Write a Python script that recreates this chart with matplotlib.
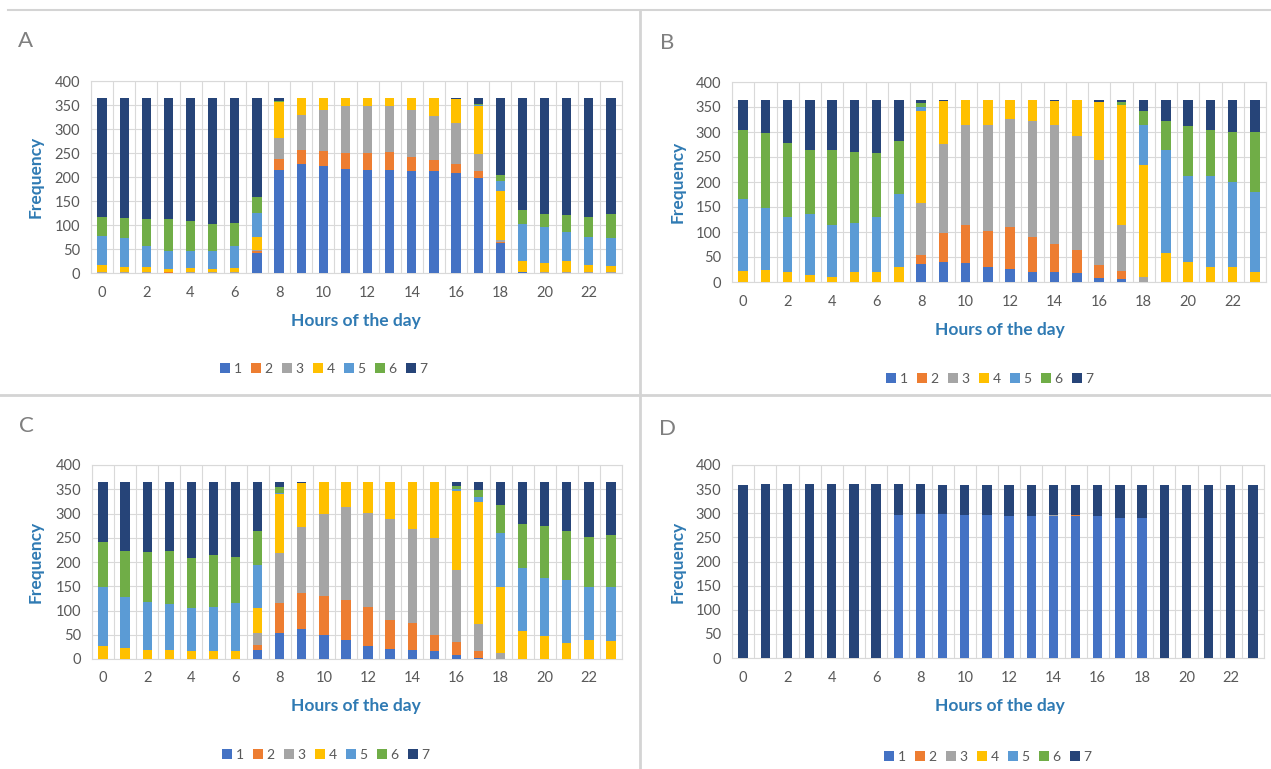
import numpy as np
import matplotlib
matplotlib.use('Agg')
import matplotlib.pyplot as plt
from matplotlib.patches import Patch
from matplotlib.lines import Line2D

plt.rcParams['font.family'] = ['Lato', 'DejaVu Sans']

hours = list(range(24))
series_names = ['1', '2', '3', '4', '5', '6', '7']
colors = ['#4472C4', '#ED7D31', '#A5A5A5', '#FFC000', '#5B9BD5', '#70AD47', '#264478']

# frequency per hour for each of the 7 classes, bottom to top
panel_a = [
    [1, 1, 1, 1, 0, 0, 0, 42, 214, 228, 222, 216, 215, 215, 212, 213, 208, 198, 62, 2, 1, 1, 1, 1],
    [0, 0, 0, 1, 1, 1, 1, 3, 24, 29, 32, 34, 35, 37, 29, 23, 19, 14, 3, 0, 0, 0, 0, 0],
    [1, 1, 1, 1, 1, 1, 1, 3, 44, 72, 86, 97, 98, 96, 99, 91, 86, 36, 4, 1, 1, 1, 1, 1],
    [14, 11, 11, 6, 8, 6, 8, 26, 75, 36, 25, 18, 16, 17, 25, 37, 49, 99, 101, 22, 19, 22, 15, 12],
    [61, 60, 44, 36, 35, 37, 47, 50, 0, 0, 0, 0, 0, 0, 0, 0, 0, 2, 21, 78, 74, 62, 59, 59],
    [40, 42, 55, 67, 63, 58, 48, 35, 2, 0, 0, 0, 0, 0, 0, 0, 1, 4, 14, 28, 28, 34, 41, 50],
    [248, 250, 253, 253, 257, 262, 260, 206, 6, 0, 0, 0, 1, 0, 0, 1, 2, 12, 160, 234, 242, 245, 248, 242],
]

panel_b = [
    [0, 0, 0, 0, 0, 0, 0, 0, 37, 41, 39, 31, 26, 21, 21, 19, 8, 6, 0, 0, 0, 0, 0, 0],
    [0, 0, 0, 0, 0, 0, 0, 0, 17, 58, 75, 71, 85, 70, 55, 45, 27, 17, 1, 0, 0, 0, 0, 0],
    [1, 1, 1, 1, 1, 1, 1, 1, 105, 177, 200, 213, 216, 231, 238, 228, 209, 91, 10, 1, 1, 1, 1, 1],
    [22, 24, 20, 14, 10, 19, 20, 30, 183, 86, 51, 50, 38, 43, 49, 72, 116, 241, 224, 58, 40, 30, 29, 20],
    [144, 123, 110, 121, 103, 98, 110, 146, 8, 0, 0, 0, 0, 0, 0, 0, 0, 0, 79, 205, 171, 181, 171, 160],
    [138, 150, 147, 128, 150, 142, 127, 105, 9, 1, 0, 0, 0, 0, 0, 0, 1, 6, 28, 58, 100, 92, 99, 119],
    [60, 67, 87, 101, 101, 105, 107, 83, 6, 2, 0, 0, 0, 0, 2, 1, 4, 4, 23, 43, 53, 61, 65, 65],
]

panel_c = [
    [0, 0, 0, 0, 0, 0, 0, 18, 53, 62, 49, 40, 27, 21, 19, 16, 9, 2, 0, 0, 0, 0, 0, 0],
    [0, 0, 0, 0, 0, 0, 0, 11, 62, 74, 80, 82, 80, 60, 55, 34, 27, 15, 1, 0, 0, 0, 0, 0],
    [1, 1, 1, 1, 1, 1, 1, 24, 103, 137, 171, 191, 194, 207, 195, 199, 148, 56, 11, 1, 1, 1, 1, 1],
    [25, 22, 18, 17, 15, 15, 16, 52, 123, 90, 65, 51, 63, 76, 96, 116, 163, 250, 136, 56, 46, 33, 39, 37],
    [123, 104, 99, 96, 89, 91, 98, 89, 2, 0, 0, 0, 0, 0, 0, 0, 3, 11, 111, 130, 119, 129, 109, 111],
    [93, 96, 103, 109, 103, 107, 95, 70, 12, 0, 0, 0, 0, 0, 0, 0, 6, 15, 58, 92, 108, 101, 103, 106],
    [123, 142, 144, 142, 157, 151, 155, 101, 10, 2, 0, 1, 1, 1, 0, 0, 9, 16, 48, 86, 91, 101, 113, 110],
]

panel_d = [
    [0, 0, 0, 0, 0, 0, 0, 297, 298, 298, 297, 297, 295, 295, 294, 294, 294, 291, 290, 0, 0, 0, 0, 0],
    [0, 0, 0, 0, 0, 0, 0, 0, 0, 0, 0, 0, 0, 0, 1, 2, 0, 0, 0, 0, 0, 0, 0, 0],
    [0, 0, 0, 0, 0, 0, 0, 0, 0, 0, 0, 0, 0, 0, 1, 0, 0, 0, 0, 0, 0, 0, 0, 0],
    [0] * 24,
    [0] * 24,
    [0] * 24,
    [358, 361, 361, 361, 361, 361, 361, 64, 63, 60, 61, 61, 63, 63, 62, 62, 64, 67, 68, 358, 358, 358, 358, 358],
]

W, H = 1271, 769
fig = plt.figure(figsize=(W / 100, H / 100), dpi=100)

tick_col = '#595959'
label_col = '#2F7AB3'
grid_col = '#D9D9D9'


def draw_panel(data, box, letter, letter_xy, ylab_xy, xlab_xy, leg_xy):
    left, top, right, bottom = box
    ax = fig.add_axes([left / W, 1 - bottom / H, (right - left) / W, (bottom - top) / H])
    x = np.arange(24)
    base = np.zeros(24)
    for vals, c, name in zip(data, colors, series_names):
        vals = np.array(vals, dtype=float)
        ax.bar(x, vals, width=0.42, bottom=base, color=c, label=name, zorder=3)
        base += vals
    ax.set_xlim(-0.5, 23.5)
    ax.set_ylim(0, 400)
    ax.set_yticks(range(0, 401, 50))
    ax.set_xticks(range(0, 24, 2))
    ax.tick_params(length=0, labelsize=10.5, colors=tick_col)
    ax.tick_params(axis='x', pad=9)
    ax.tick_params(axis='y', pad=8)
    ax.set_xticks(np.arange(-0.5, 24, 1), minor=True)
    ax.tick_params(which='minor', length=0)
    ax.grid(axis='y', which='major', color=grid_col, lw=0.8, zorder=0)
    ax.grid(axis='x', which='minor', color=grid_col, lw=0.8, zorder=0)
    for s in ax.spines.values():
        s.set_color(grid_col)
        s.set_linewidth(0.8)
    fig.text(letter_xy[0] / W, 1 - letter_xy[1] / H, letter, fontsize=16,
             color='#7F7F7F', ha='center', va='center')
    fig.text(ylab_xy[0] / W, 1 - ylab_xy[1] / H, 'Frequency', rotation=90,
             fontsize=12.5, fontweight='bold', color=label_col, ha='center', va='center')
    fig.text(xlab_xy[0] / W, 1 - xlab_xy[1] / H, 'Hours of the day',
             fontsize=12.5, fontweight='bold', color=label_col, ha='center', va='center')
    handles = [Patch(facecolor=c, edgecolor='none') for c in colors]
    leg = fig.legend(handles, series_names, loc='center',
                     bbox_to_anchor=(leg_xy[0] / W, 1 - leg_xy[1] / H),
                     ncol=7, frameon=False, fontsize=10, handlelength=0.7,
                     handleheight=0.7, handletextpad=0.25, columnspacing=0.7)
    for t in leg.get_texts():
        t.set_color(tick_col)
    return ax


draw_panel(panel_a, (91, 81, 622, 273), 'A', (25, 41), (36, 177), (356, 321), (324, 369))
draw_panel(panel_b, (732, 82, 1266, 282), 'B', (667, 43), (678, 182), (1000, 330), (990, 379))
draw_panel(panel_c, (92, 465, 622, 659), 'C', (26, 426), (36, 562), (356, 706), (326, 755))
draw_panel(panel_d, (732, 465, 1264, 658), 'D', (668, 429), (678, 562), (1000, 706), (988, 757))

# panel borders
line_col = '#D4D4D4'
fig.add_artist(Line2D([8 / W, 1], [1 - 10 / H, 1 - 10 / H], color=line_col, lw=1.5))
fig.add_artist(Line2D([640 / W, 640 / W], [0, 1 - 10 / H], color=line_col, lw=2))
fig.add_artist(Line2D([0, 1], [1 - 395 / H, 1 - 395 / H], color=line_col, lw=2))

fig.savefig('out.png', dpi=100)
